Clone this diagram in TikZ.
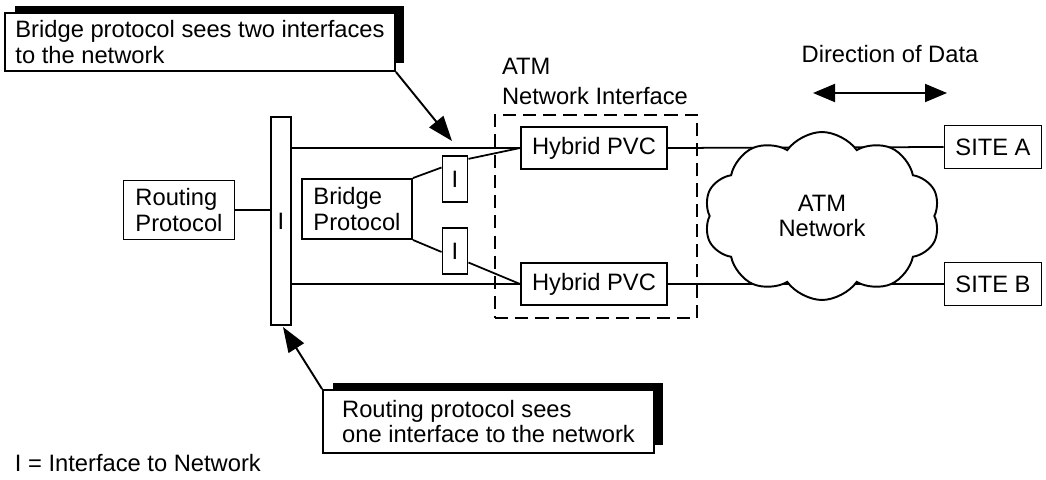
\documentclass[tikz,border=0pt]{standalone}
\usepackage{fontspec}
\setmainfont{Liberation Sans}
\usetikzlibrary{arrows.meta,positioning,calc,shapes.symbols,shadows}

\begin{document}
\begin{tikzpicture}[x=0.02cm, y=-0.02cm,
      every node/.style={align=left, line width=1.1pt, font=\fontsize{13.5}{14.5}\selectfont},
      protoBox/.style={
          draw, inner sep=0pt,
          minimum width=2.2cm, minimum height=1.2cm
        },
      ifBox/.style={
          draw, inner sep=0pt,
          minimum width=0.5cm, minimum height=0.92cm
        },
      pvcBox/.style={
          draw, inner sep=0pt,
          minimum width=2.92cm, minimum height=0.84cm
        },
      siteBox/.style={
          draw, inner sep=0pt,
          minimum width=1.94cm, minimum height=0.86cm
        },
      noteBox/.style={
          draw, fill=white, inner sep=0pt,
          drop shadow={shadow xshift=0.19cm, shadow yshift=0.15cm,
              shadow scale=1, fill=black, opacity=1}
        },
      link/.style={line width=1pt},
      pointer/.style={line width=1.1pt, -{Triangle[length=0.5cm, width=0.36cm]}}
    ]
    \useasboundingbox (0,0) rectangle (1046,480);

    % left side: routing and bridge
    \node[protoBox, minimum width=2.22cm, minimum height=1.18cm] (routing) at (179,210) {Routing\\Protocol};
    \node[draw, inner sep=0pt, minimum width=0.4cm, minimum height=4.16cm] (ibar) at (281,221) {I};
    \node[protoBox] (bridge) at (357,209) {Bridge\\Protocol};
    \node[ifBox] (ia) at (455,179) {I};
    \node[ifBox] (ib) at (455,251) {I};

    % ATM network interface
    \node[draw, line width=1.1pt, dash pattern=on 7.5pt off 4pt,
      minimum width=4.04cm, minimum height=4.06cm] (atmif) at (596,216.5) {};
    \node[anchor=south west, inner sep=0pt, xshift=0.14cm, yshift=0.16cm] (atmlabel)
      at (atmif.north west) {ATM\\[2.5pt]Network Interface};
    \node[pvcBox] (pva) at (594,148) {Hybrid PVC};
    \node[pvcBox] (pvb) at (594,284) {Hybrid PVC};

    % sites
    \node[siteBox] (siteA) at (993,147) {SITE A};
    \node[siteBox] (siteB) at (993,284) {SITE B};

    \draw[link] (routing.east) -- (routing.east -| ibar.west);
    \draw[link] (ibar.east |- pva.west) -- (pva.west);
    \draw[link] (ibar.east |- pvb.west) -- (pvb.west);
    \draw[link] (bridge.north east) -- ($(ia.north west)!0.26!(ia.south west)$);
    \draw[link] ($(ia.north east)!0.08!(ia.south east)$) -- (pva.west);
    \draw[link] (bridge.south east) -- ($(ib.north west)!0.52!(ib.south west)$);
    \draw[link] ($(ib.north east)!0.74!(ib.south east)$) -- (pvb.west);
    \draw[link] (pva.east) -- (siteA.west);
    \draw[link] (pvb.east) -- (siteB.west);

    \node[cloud, draw, fill=white, align=center, cloud puffs=10, cloud puff arc=110,
      cloud ignores aspect, minimum width=4.72cm, minimum height=3.36cm, inner sep=0pt]
      (atm) at (822,216) {ATM\\Network};

    % direction of data
    \node (dirlabel) at (890,54) {Direction of Data};
    \coordinate (dl) at (813,93);
    \coordinate (dr) at (947,93);
    \draw[line width=1.1pt, {Triangle[length=0.44cm, width=0.36cm]}-{Triangle[length=0.44cm, width=0.36cm]}] (dl) -- (dr);

    % notes
    \node[noteBox, minimum width=7.8cm, minimum height=1.16cm] (bnote) at (200,42)
      {Bridge protocol sees two interfaces\\to the network};
    \node[noteBox, minimum width=6.62cm, minimum height=1.26cm] (rnote) at (488.5,421.5)
      {Routing protocol sees\\one interface to the network};
    \coordinate (btip) at (452,141);
    \coordinate (rtip) at (283,327);
    \draw[pointer] (bnote.south east) -- (btip);
    \draw[pointer] (rnote.north west) -- (rtip);

    \node[anchor=base west, inner sep=0pt] (legend) at (14,471) {I = Interface to Network};
  \end{tikzpicture}
\end{document}
